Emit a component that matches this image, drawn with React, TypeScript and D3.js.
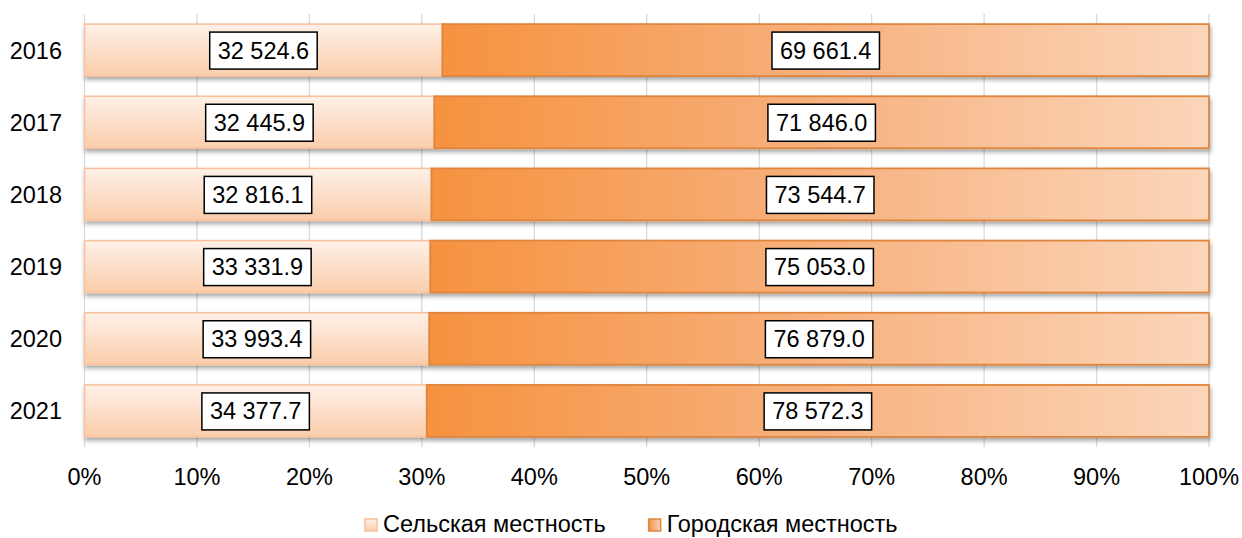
import React, { useEffect, useRef } from "react";
import * as d3 from "d3";

const years = ["2016", "2017", "2018", "2019", "2020", "2021"];
const rural = [32524.6, 32445.9, 32816.1, 33331.9, 33993.4, 34377.7];
const urban = [69661.4, 71846.0, 73544.7, 75053.0, 76879.0, 78572.3];
const ticks = [0, 0.1, 0.2, 0.3, 0.4, 0.5, 0.6, 0.7, 0.8, 0.9, 1.0];
const seriesNames = ["Сельская местность", "Городская местность"];

const W = 1242;
const H = 538;
const FONT = "'Liberation Sans', Arial, sans-serif";
const FS = 23.5;

function fmt(v: number): string {
  const s = v.toFixed(1);
  const [i, d] = s.split(".");
  const ii = i.replace(/\B(?=(\d{3})+(?!\d))/g, " ");
  return ii + "." + d;
}

export default function App() {
  const ref = useRef<SVGSVGElement | null>(null);

  useEffect(() => {
    const svg = d3.select(ref.current);
    svg.selectAll("*").remove();

    const x = d3.scaleLinear().domain([0, 1]).range([84.5, 1209]);
    const y = d3.scaleBand<string>().domain(years).range([14, 447]).paddingInner(0.28).paddingOuter(0.14);

    const defs = svg.append("defs");
    const g1 = defs.append("linearGradient").attr("id", "gRural").attr("x1", 0).attr("x2", 0).attr("y1", 0).attr("y2", 1);
    g1.append("stop").attr("offset", "0%").attr("stop-color", "#fef1e8");
    g1.append("stop").attr("offset", "100%").attr("stop-color", "#fbcdab");
    const g2 = defs.append("linearGradient").attr("id", "gUrban").attr("x1", 0).attr("x2", 1).attr("y1", 0).attr("y2", 0);
    g2.append("stop").attr("offset", "0%").attr("stop-color", "#f6923f");
    g2.append("stop").attr("offset", "50%").attr("stop-color", "#f7b17e");
    g2.append("stop").attr("offset", "100%").attr("stop-color", "#fbd6ba");
    const f = defs.append("filter").attr("id", "shadow").attr("x", "-5%").attr("y", "-20%").attr("width", "110%").attr("height", "160%");
    f.append("feDropShadow").attr("dx", 1).attr("dy", 3).attr("stdDeviation", 2).attr("flood-color", "#000").attr("flood-opacity", 0.35);

    // gridlines
    svg.append("g").selectAll("line").data(ticks).join("line")
      .attr("x1", (d) => x(d)).attr("x2", (d) => x(d))
      .attr("y1", 14).attr("y2", 447)
      .attr("stroke", "#d9d9d9").attr("stroke-width", 1.3);

    // tick labels
    svg.append("g").selectAll("text").data(ticks).join("text")
      .attr("x", (d) => x(d)).attr("y", 485)
      .attr("text-anchor", "middle")
      .attr("font-family", FONT).attr("font-size", FS).attr("fill", "#000")
      .text((d) => Math.round(d * 100) + "%");

    // year labels
    svg.append("g").selectAll("text").data(years).join("text")
      .attr("x", 62).attr("y", (d) => (y(d) as number) + y.bandwidth() / 2 + 8.5)
      .attr("text-anchor", "end")
      .attr("font-family", FONT).attr("font-size", FS).attr("fill", "#000")
      .text((d) => d);

    const bars = svg.append("g");
    years.forEach((yr, i) => {
      const tot = rural[i] + urban[i];
      const p = rural[i] / tot;
      const y0 = y(yr) as number;
      const bh = y.bandwidth();
      const gb = bars.append("g").attr("filter", "url(#shadow)");
      gb.append("rect").attr("x", x(0)).attr("y", y0).attr("width", x(p) - x(0)).attr("height", bh)
        .attr("fill", "url(#gRural)").attr("stroke", "#f8c09c").attr("stroke-width", 1.5);
      gb.append("rect").attr("x", x(p)).attr("y", y0).attr("width", x(1) - x(p)).attr("height", bh)
        .attr("fill", "url(#gUrban)").attr("stroke", "#e0853c").attr("stroke-width", 1.8);
    });

    const labels = svg.append("g");
    years.forEach((yr, i) => {
      const tot = rural[i] + urban[i];
      const p = rural[i] / tot;
      const cy = (y(yr) as number) + y.bandwidth() / 2;
      const items = [
        { cx: (x(0) + x(p)) / 2, v: rural[i] },
        { cx: (x(p) + x(1)) / 2, v: urban[i] },
      ];
      items.forEach((it) => {
        const lg = labels.append("g");
        const rect = lg.append("rect");
        const t = lg.append("text")
          .attr("x", it.cx).attr("y", cy + 8.5)
          .attr("text-anchor", "middle")
          .attr("font-family", FONT).attr("font-size", FS).attr("fill", "#000")
          .text(fmt(it.v));
        const bb = (t.node() as SVGTextElement).getBBox();
        const w = bb.width + 16;
        const h = 37;
        rect.attr("x", it.cx - w / 2).attr("y", cy - h / 2 + 0.5).attr("width", w).attr("height", h)
          .attr("fill", "#fff").attr("stroke", "#000").attr("stroke-width", 1.5);
      });
    });

    // legend
    const lg = svg.append("g");
    const items = [
      { name: seriesNames[0], fill: "url(#gRural)", stroke: "#f8c09c" },
      { name: seriesNames[1], fill: "url(#gUrban)", stroke: "#e0853c" },
    ];
    let cursor = 365;
    items.forEach((it) => {
      lg.append("rect").attr("x", cursor).attr("y", 519).attr("width", 12).attr("height", 12)
        .attr("fill", it.fill).attr("stroke", it.stroke).attr("stroke-width", 1.5);
      const t = lg.append("text").attr("x", cursor + 18).attr("y", 532)
        .attr("font-family", FONT).attr("font-size", FS).attr("fill", "#000").text(it.name);
      const bb = (t.node() as SVGTextElement).getBBox();
      cursor = cursor + 18 + bb.width + 43;
    });
  }, []);

  return (
    <svg
      ref={ref}
      width={W}
      height={H}
      style={{ position: "absolute", left: 0, top: 0, background: "#fff" }}
    />
  );
}
